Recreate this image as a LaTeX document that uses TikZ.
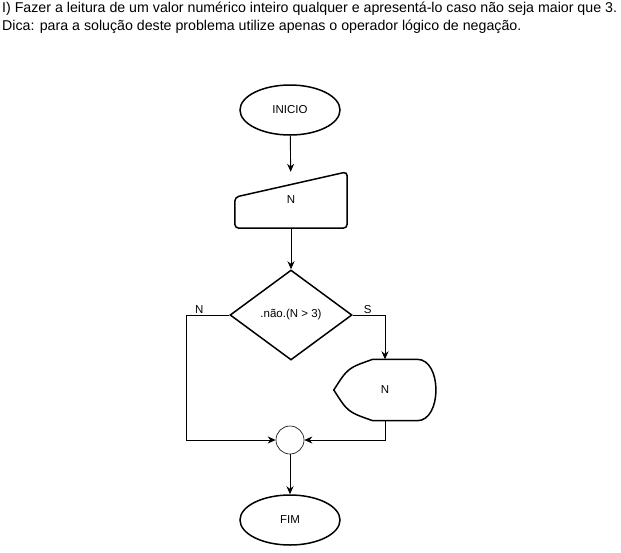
\documentclass[tikz,border=0pt]{standalone}
\usepackage{fontspec}
\setmainfont{Liberation Sans}
\usetikzlibrary{shapes.geometric,arrows.meta}

\begin{document}
\begin{tikzpicture}[x=1pt,y=-1pt,
				terminal/.style={draw,ellipse,line width=1.5pt,minimum width=100pt,minimum height=50pt,inner sep=0pt},
				decision/.style={draw,diamond,line width=1.5pt,minimum width=122pt,minimum height=90pt,inner sep=0pt},
				shapebox/.style={inner sep=0pt},
				outline/.style={draw,line width=1.5pt,line join=round},
				junction/.style={draw,circle,line width=0.6pt,minimum size=28pt,inner sep=0pt},
				flowlabel/.style={above,inner sep=1pt,font=\fontsize{11.5}{13}\selectfont},
				every node/.style={font=\fontsize{11.5}{13}\selectfont},
				>={Stealth[length=8pt,width=7pt]}]
				
				\useasboundingbox (0,0) rectangle (621,552);
				
				% Enunciado
				\node[anchor=north west,align=left,inner sep=0pt,font=\fontsize{14.2}{18}\selectfont] (enunciado) at (2,2)
				{I) Fazer a leitura de um valor numérico inteiro qualquer e apresentá-lo caso não seja maior que 3.\\
				Dica: para a solução deste problema utilize apenas o operador lógico de negação.};
				
				% Nodes
				\node[terminal] (inicio) at (290,110) {INICIO};
				\node[shapebox,minimum width=112pt,minimum height=56pt] (entrada) at (291,200) {N};
				\node[decision] (decisao) at (291,315) {.não.(N > 3)};
				\node[shapebox,minimum width=102pt,minimum height=61pt] (saida) at (385,390) {N};
				\node[junction] (juncao) at (290,440) {};
				\node[terminal] (fim) at (290,520) {FIM};
				
				% Entrada manual
				\draw[outline,rounded corners=4pt] (entrada.south west) -- ([yshift=31pt]entrada.south west)
					-- (entrada.north east) -- (entrada.south east) -- cycle;
				
				% Exibicao
				\draw[outline] (saida.west) .. controls ([xshift=14pt,yshift=22pt]saida.west) .. ([xshift=39pt]saida.north west)
					-- ([xshift=-19pt]saida.north east)
					.. controls ([xshift=6pt]saida.north east) and ([xshift=6pt]saida.south east) .. ([xshift=-19pt]saida.south east)
					-- ([xshift=39pt]saida.south west)
					.. controls ([xshift=14pt,yshift=-22pt]saida.west) .. cycle;
				
				% Connectors
				\begin{scope}[line width=0.9pt]
				\draw[->] (inicio) -- (entrada);
				\draw[->] (entrada) -- (decisao);
				\draw[->] (decisao.west) -- ++(-43,0) node[flowlabel,pos=0.7] {N} |- (juncao.west);
				\draw[->] (decisao.east) -| node[flowlabel,pos=0.23] {S} (saida.north);
				\draw[->] (saida.south) |- (juncao.east);
				\draw[->] (juncao) -- (fim);
				\end{scope}
			\end{tikzpicture}
\end{document}
